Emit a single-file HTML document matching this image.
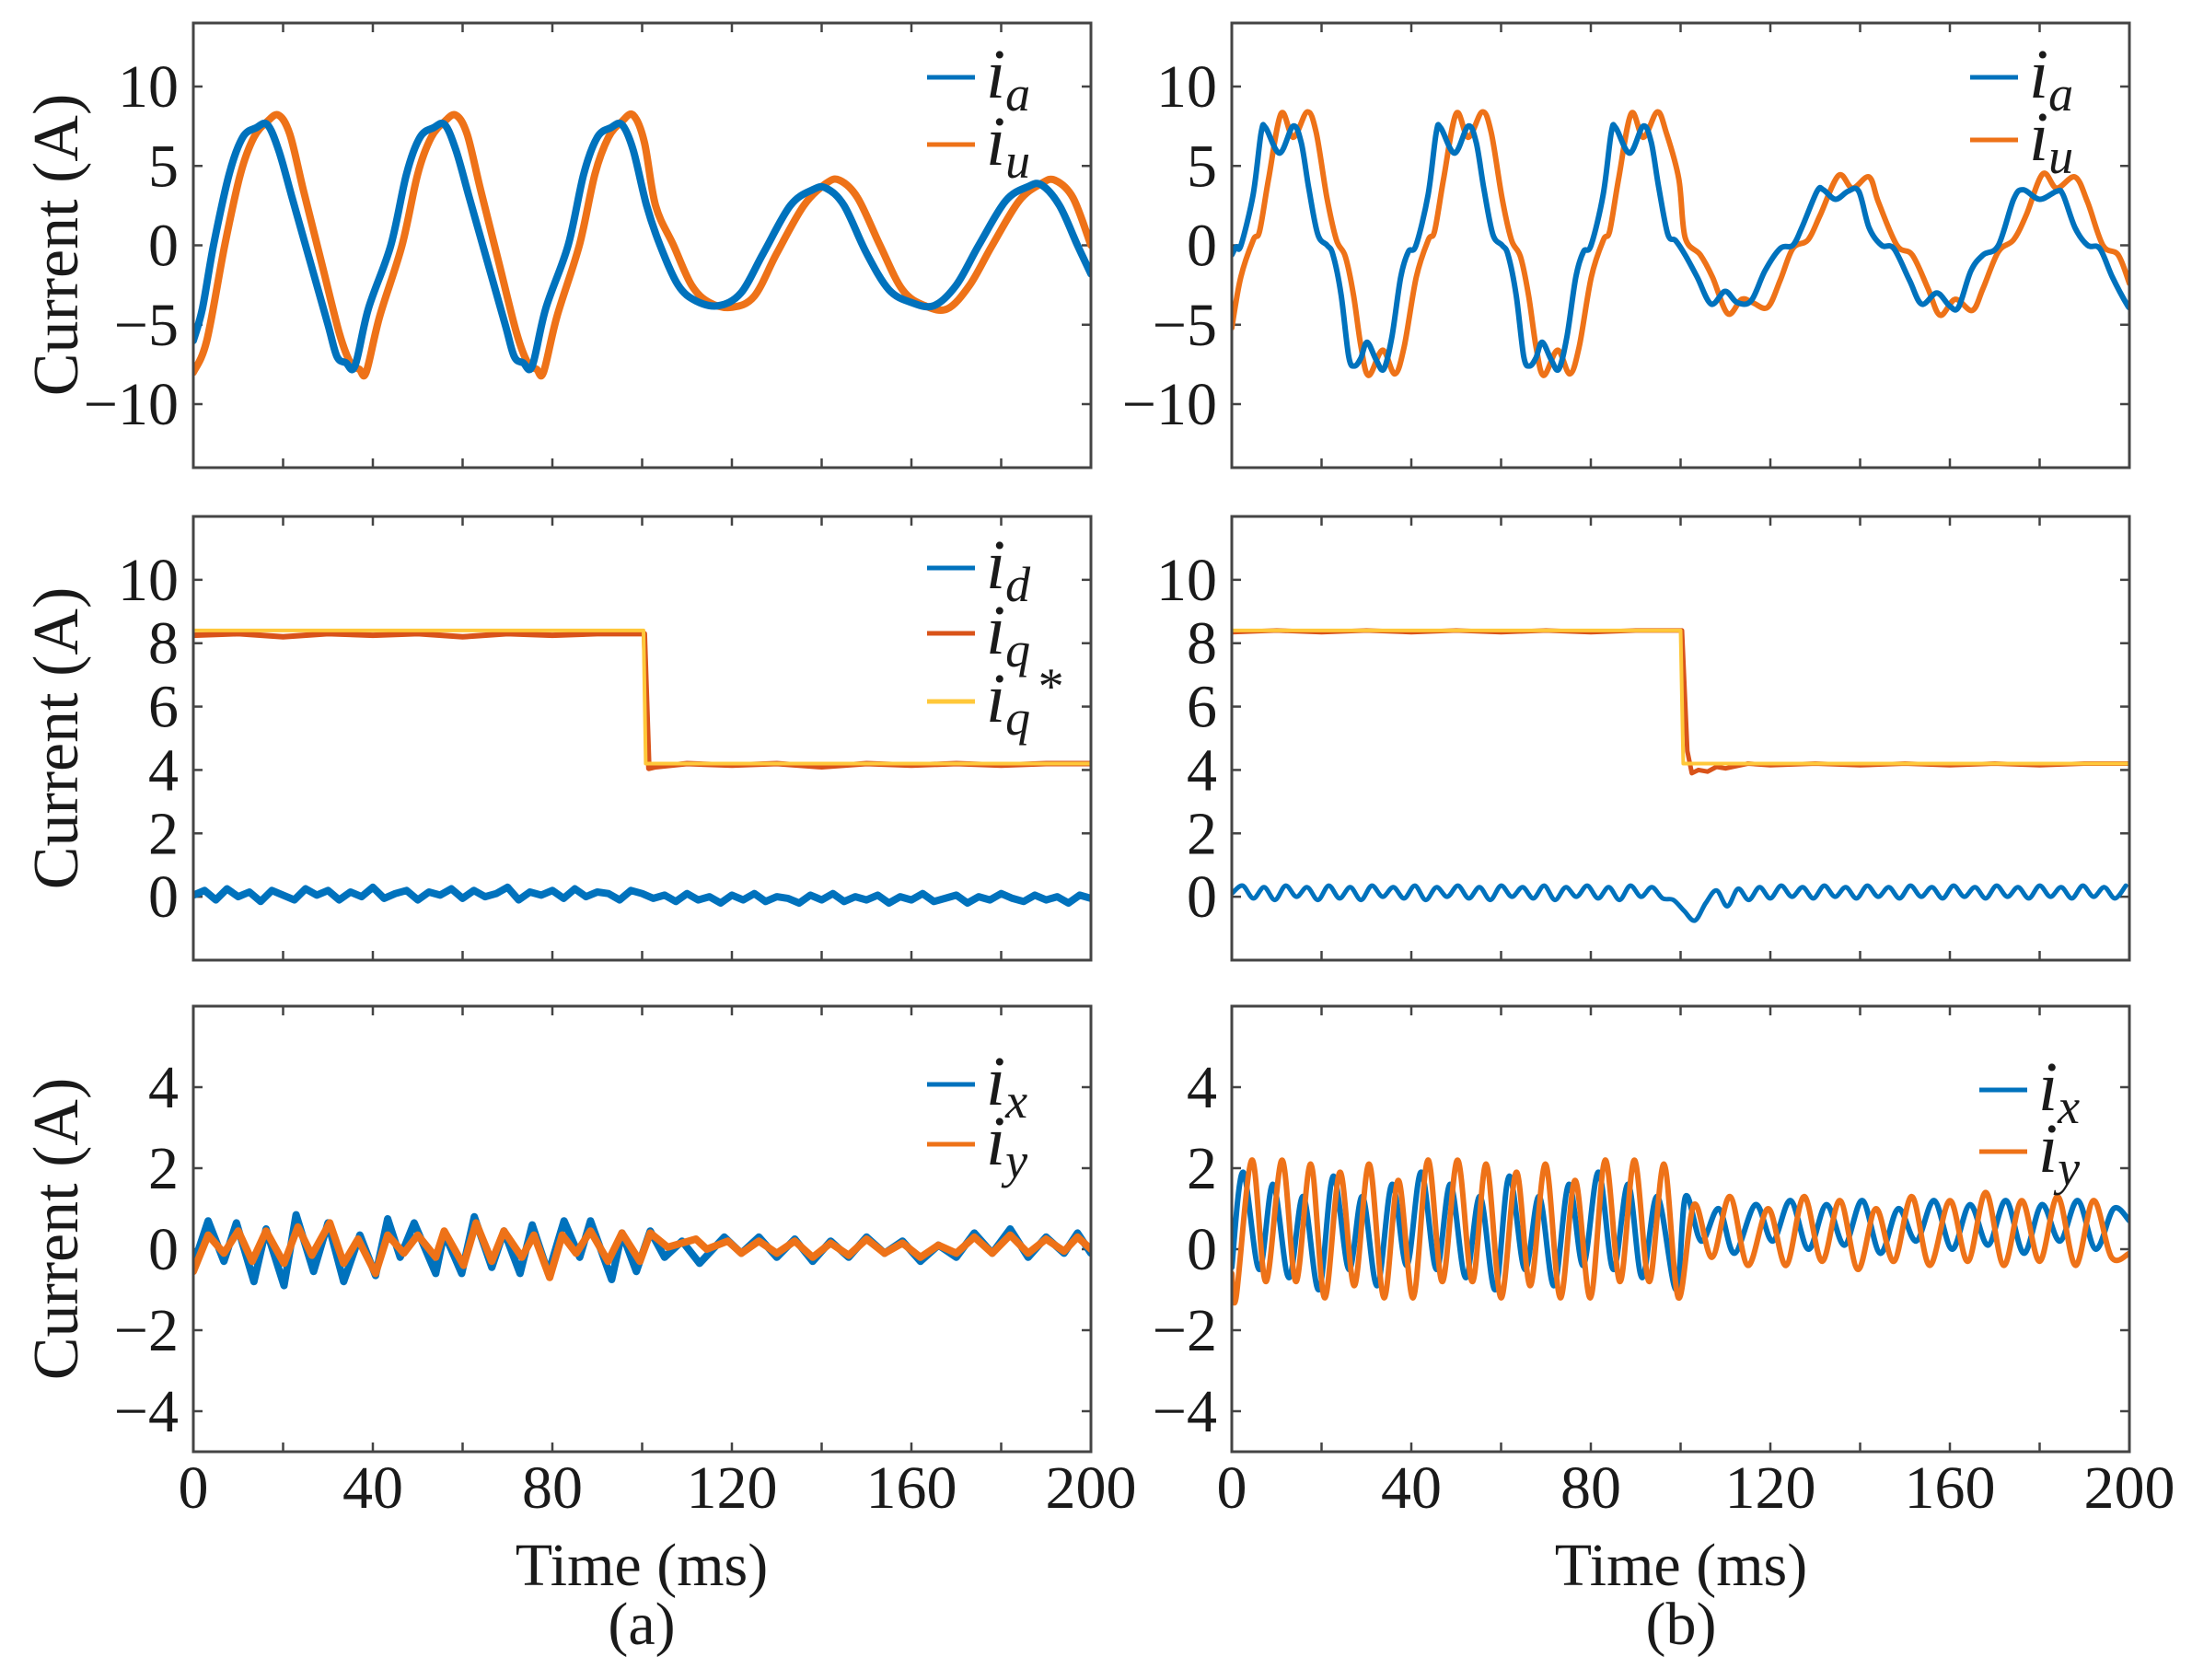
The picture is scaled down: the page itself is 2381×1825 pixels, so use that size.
<!DOCTYPE html>
<html>
<head>
<meta charset="utf-8">
<style>
html,body{margin:0;padding:0;background:#fff;}
svg{display:block;}
text{font-family:"Liberation Serif","DejaVu Serif",serif;fill:#1a1a1a;}
</style>
</head>
<body>
<svg id="fig" width="2381" height="1825" viewBox="0 0 2381 1825" xmlns="http://www.w3.org/2000/svg">
<rect x="0" y="0" width="2381" height="1825" fill="#fff"/>
<g id="layer"></g>
</svg>
<script>
// ---------- data ----------
const xTickLabels = ["0","40","80","120","160","200"];
const xTickValues = [0,40,80,120,160,200];
const topTicks = [-10,-5,0,5,10];
const midTicks = [0,2,4,6,8,10];
const botTicks = [-4,-2,0,2,4];

// (a) top: i_a, i_u
const iaA_t = [0,2,4.5,8,11,14,16.5,19,22,26,30,32,34,36,39,44,47.5,50.5,53.5,56,58.5,61.5,65.5,69.5,71.5,73.5,75.5,78.5,83.5,87,90,93,95.5,98,101,104,108,112,117,122,127,133,138,141,145,150,155,160,165,170,175,181,186,189,193,197,200];
const iaA_v = [-6,-4,0,4.5,6.8,7.4,7.6,6,3,-1,-5,-7,-7.4,-7.6,-4,0,4.5,6.8,7.4,7.6,6,3,-1,-5,-7,-7.4,-7.6,-4,0,4.5,6.8,7.4,7.6,6,2.5,0,-2.5,-3.5,-3.8,-3,-0.5,2.5,3.5,3.6,2.5,-0.5,-2.8,-3.6,-3.8,-2.5,0,2.8,3.7,3.8,2.5,0,-1.8];
const iuA_t = [0,3,7,10.5,13.5,16.5,19,21.5,24.5,28.5,32.5,35,37,38.5,41.5,46.5,50,53,56,58.5,61,64,68,72,74.5,76.5,78,81,86,89.5,92.5,95.5,98,100.5,103,107,111,115,120,125,130,136,141,144,148,153,158,163,168,173,178,184,189,192,196,200];
const iuA_v = [-8,-6,0,4.5,6.8,7.8,8.2,7,3.5,-1,-5.5,-7.4,-7.8,-8,-4.5,0,4.5,6.8,7.8,8.2,7,3.5,-1,-5.5,-7.4,-7.8,-8,-4.5,0,4.5,6.8,7.8,8.2,6.5,2.5,0,-2.5,-3.6,-3.9,-3.2,-0.5,2.5,3.9,4.1,3,0,-2.8,-3.8,-4,-2.5,0,2.8,3.9,4.1,3,0];

// (b) top
const iaB_t = [0,1,2.05,4.75,6.55,7.55,10.65,13.65,15.45,17.15,19.15,21.25,22.55,24.35,26.05,27.35,28.75,30.15,32.15,33.85,35.65,37.65,39.35,41.05,43.75,45.55,46.55,49.65,52.65,54.45,56.15,58.15,60.25,61.55,63.35,65.05,66.35,67.75,69.15,71.15,72.85,74.65,76.65,78.35,80.05,82.75,84.55,85.55,88.65,91.65,93.45,95.15,97.15,98.9,101,103.7,106.8,109.9,112.6,115.7,118.8,122.2,125,127,130.4,131.8,134.5,137.3,139.7,142,144.8,147.5,151,153.7,157.1,159.9,161.9,164.7,167.4,170.8,174.2,176.3,180,183.8,185.2,187.9,190.7,193.4,196.2,199.6,200];
const iaB_v = [-0.6,-0.1,0,3.2,7.1,7.4,5.8,7.5,6.5,3.6,0.7,0,-0.6,-3.1,-7,-7.6,-7.1,-6.1,-7.2,-7.8,-5.8,-2,-0.4,0,3.2,7.1,7.4,5.8,7.5,6.5,3.6,0.7,0,-0.6,-3.1,-7,-7.6,-7.1,-6.1,-7.2,-7.8,-5.8,-2,-0.4,0,3.2,7.1,7.4,5.8,7.5,6.5,3.6,0.7,0.3,-0.6,-2,-3.7,-2.9,-3.6,-3.5,-1.6,-0.2,0,1.1,3.4,3.5,2.9,3.4,3.4,1.1,0,-0.2,-2.2,-3.7,-3,-3.8,-3.9,-1.6,-0.6,0,2.9,3.5,2.9,3.4,3.2,1.1,0,-0.2,-2,-3.8,-3.8];
const iuB_t = [0,2,4.8,6.2,8.2,11,13.7,16.8,18.8,21.2,23.3,25.3,27.1,28.8,30.5,33.6,36.3,38.4,41.1,43.8,45.2,47.2,50,52.7,55.8,57.8,60.2,62.3,64.3,66.1,67.8,69.5,72.6,75.3,77.4,80.1,82.8,84.2,86.2,89,91.7,94.8,96.8,99.6,101,104.4,107.1,110.5,113.6,116,119.4,122.2,125,128.4,131.1,135.2,138.3,142,144.1,148.2,151.6,155.1,157.8,161.2,165,167.4,170.8,174.2,177,180.7,183.8,187.9,190.7,194.1,197.5,200];
const iuB_v = [-5.2,-2,0.35,0.9,4.2,8.3,6.8,8.4,7.1,3,0.35,-0.7,-3.1,-6.4,-8.2,-6.6,-8.1,-6.4,-2,0.35,0.9,4.2,8.3,6.8,8.4,7.1,3,0.35,-0.7,-3.1,-6.4,-8.2,-6.6,-8.1,-6.4,-2,0.35,0.9,4.2,8.3,6.8,8.4,7.1,4.2,0.5,-0.6,-2,-4.3,-3.4,-3.6,-3.9,-2.2,-0.2,0.35,1.9,4.4,3.6,4.3,2.7,0,-0.6,-2.7,-4.4,-3.4,-4.1,-2.7,-0.4,0.35,1.9,4.5,3.6,4.3,2.7,0,-0.6,-2.4];

// (a) middle: i_d, i_q, i_q*
const idA_dt = 2.5;
const idA_v = [0.05,0.2,-0.1,0.25,0,0.15,-0.15,0.2,0.05,-0.1,0.25,0.05,0.2,-0.1,0.15,0,0.3,-0.05,0.1,0.2,-0.1,0.15,0.05,0.25,-0.05,0.2,0,0.1,0.3,-0.1,0.15,0.05,0.2,-0.05,0.25,0,0.15,0.1,-0.1,0.2,0.1,-0.05,0.05,-0.15,0.1,-0.1,0,-0.2,0.05,-0.1,0.1,-0.15,0,-0.05,-0.2,0.05,-0.1,0.1,-0.15,0,-0.1,0.05,-0.2,0,-0.1,0.1,-0.15,-0.05,0.05,-0.2,0,-0.1,0.1,-0.05,-0.15,0.05,-0.1,0,-0.2,0.05,-0.05];
const iqA_t = [0,10,20,30,40,50,60,70,80,90,100.5,101.5,103,110,120,130,140,150,160,170,180,190,200];
const iqA_v = [8.25,8.3,8.2,8.3,8.25,8.3,8.2,8.3,8.25,8.3,8.3,4.05,4.1,4.2,4.15,4.2,4.1,4.2,4.15,4.2,4.15,4.2,4.2];
const iqRefA_t = [0,100.3,100.8,200];
const iqRefA_v = [8.4,8.4,4.2,4.2];

// (b) middle
const idB_dt = 2.4;
const idB_v = [0.1,0.35,-0.05,0.3,-0.1,0.35,0,0.3,-0.1,0.35,-0.05,0.3,-0.1,0.35,0,0.3,-0.05,0.35,-0.1,0.3,0,0.35,-0.05,0.3,-0.1,0.35,0,0.3,-0.05,0.35,-0.1,0.3,0,0.35,-0.05,0.3,-0.1,0.35,0,0.3,-0.05,-0.1,-0.45,-0.75,-0.2,0.2,-0.3,0.25,-0.1,0.3,-0.05,0.35,0,0.3,-0.05,0.35,0,0.3,-0.05,0.35,0,0.3,-0.05,0.35,0,0.3,-0.05,0.35,0,0.3,-0.05,0.35,0,0.3,-0.05,0.35,0,0.3,-0.05,0.35,0,0.3,-0.05,0.35];
const iqB_t = [0,10,20,30,40,50,60,70,80,90,100.3,101.5,102.5,104,106,108,110,115,120,130,140,150,160,170,180,190,200];
const iqB_v = [8.35,8.4,8.35,8.4,8.35,8.4,8.35,8.4,8.35,8.4,8.4,4.6,3.9,4.0,3.95,4.1,4.05,4.2,4.15,4.2,4.15,4.2,4.15,4.2,4.15,4.2,4.2];
const iqRefB_t = [0,100,100.6,200];
const iqRefB_v = [8.4,8.4,4.2,4.2];

// (a) bottom: i_x, i_y
const ixA_t = [0,3.3,6.8,9.6,13.5,16.2,20.2,22.9,26.8,30,33.5,37.1,40.6,43.3,46.1,49.2,54,55.9,59.8,62.6,66.5,69.2,72.8,75.5,79.1,82.6,86.1,88.5,93.2,95.5,98.7,101.8,105,108.9,112.8,118.3,122.1,126,130,134,138,142,146,150,154,158,162,166,170,174,178,182,186,190,194,197,200];
const ixA_v = [-0.4,0.7,-0.3,0.65,-0.8,0.5,-0.9,0.85,-0.55,0.65,-0.8,0.35,-0.65,0.75,-0.2,0.65,-0.6,0.4,-0.6,0.8,-0.45,0.45,-0.6,0.6,-0.6,0.7,-0.2,0.7,-0.75,0.4,-0.55,0.45,-0.2,0.2,-0.35,0.3,-0.1,0.3,-0.2,0.25,-0.3,0.2,-0.2,0.3,-0.1,0.2,-0.3,0.1,-0.2,0.4,-0.1,0.5,-0.2,0.3,-0.1,0.4,-0.1];
const iyA_t = [0,3.3,6.8,10,13.1,16.2,20.2,23.3,26.4,30.4,33.5,36.7,40.6,43.3,46.9,50,54,55.9,60.2,63,66.5,69.2,73.2,75.9,79.4,82.2,85.3,88.5,92.4,95.5,99.5,101.8,105.7,112,114.4,119.1,122.1,126,130,134,138,142,146,150,154,158,162,166,170,174,178,182,186,190,194,197,200];
const iyA_v = [-0.55,0.35,-0.1,0.45,-0.3,0.45,-0.35,0.55,-0.15,0.65,-0.35,0.25,-0.6,0.35,-0.1,0.35,-0.2,0.45,-0.4,0.65,-0.3,0.45,-0.2,0.35,-0.7,0.35,-0.1,0.45,-0.3,0.4,-0.3,0.4,0.05,0.25,0,0.2,-0.1,0.2,-0.1,0.2,-0.2,0.15,-0.15,0.25,-0.1,0.15,-0.2,0.1,-0.1,0.3,-0.1,0.35,-0.1,0.25,-0.05,0.3,0];

// (b) bottom
const ixB_t = [0,2.5,6.1,9.2,12.7,15.9,19.4,22.6,26.1,29.1,32.4,35.7,39,42.2,45.6,48.7,52.1,55.3,58.7,61.8,65.3,68.5,71.8,75.1,78.3,81.7,85,88.3,91.4,94.8,99,101.1,104.6,108.5,112,116.7,120.5,124.5,128.5,132.5,136.5,140.5,144.5,148.5,152.5,156.5,160.5,164.5,168.5,172.5,176.5,180.5,184.5,188.5,192.5,196.5,200];
const ixB_v = [-0.45,1.9,-0.5,1.6,-0.7,1.3,-1.0,1.8,-0.5,1.3,-0.9,1.6,-0.4,1.9,-0.5,1.6,-0.7,1.3,-1.0,1.8,-0.5,1.3,-0.9,1.6,-0.4,1.9,-0.5,1.6,-0.7,1.3,-1.0,1.3,0.2,1.0,-0.1,1.1,0.2,1.2,0,1.1,0.1,1.2,-0.1,1.0,0.2,1.2,0,1.1,0.1,1.2,-0.1,1.1,0.2,1.2,0,1.0,0.7];
const iyB_t = [0,0.95,4.5,7.6,11.2,14.3,17.6,20.7,24.1,27.3,30.6,33.9,37.1,40.4,43.7,46.9,50.3,53.6,56.7,60,63.4,66.5,69.9,73.2,76.5,79.9,83.2,86.5,89.7,93,96.3,99.5,103,107,111,115,119.5,123.5,127.5,131.5,135.5,139.5,143.5,147.5,151.5,155.5,160,164,168,172,176,180,184,188,192,196,200];
const iyB_v = [-0.6,-1.2,2.2,-0.8,2.2,-0.8,2.1,-1.2,1.9,-0.9,2.1,-1.2,1.7,-1.2,2.2,-0.8,2.2,-0.8,2.1,-1.2,1.9,-0.9,2.1,-1.2,1.7,-1.2,2.2,-0.8,2.2,-0.8,2.1,-1.2,1.1,-0.2,1.3,-0.4,1.0,-0.4,1.3,-0.3,1.2,-0.5,1.0,-0.3,1.3,-0.4,1.2,-0.3,1.4,-0.4,1.2,-0.3,1.3,-0.4,1.2,-0.2,-0.1];

// ---------- drawing ----------
const NS = "http://www.w3.org/2000/svg";
const layer = document.getElementById('layer');
const BLUE = "#0072BD", ORANGE = "#EE7218", YELLOW = "#FFC83A";
const colX = [210, 1338], W = 975;
const rows = [{y:25,h:483,min:-14,max:14,ticks:topTicks},{y:561,h:482,min:-2,max:12,ticks:midTicks},{y:1093,h:484,min:-5,max:6,ticks:botTicks}];

function mk(tag, attrs, parent){
  const e = document.createElementNS(NS, tag);
  for (const k in attrs) e.setAttribute(k, attrs[k]);
  (parent||layer).appendChild(e);
  return e;
}
function axes(ci, ri){
  const x0 = colX[ci], r = rows[ri];
  const xs = t => x0 + t/200*W;
  const ys = v => r.y + (r.max - v)/(r.max - r.min)*r.h;
  return {xs, ys, x0, r};
}
function linPath(ax, T, V){
  let d = "";
  for (let i=0;i<T.length;i++) d += (i?"L":"M") + ax.xs(T[i]).toFixed(1) + "," + ax.ys(V[i]).toFixed(1);
  return d;
}
function smoothPath(ax, T, V){
  const P = T.map((t,i)=>[ax.xs(t), ax.ys(V[i])]);
  let d = "M"+P[0][0].toFixed(1)+","+P[0][1].toFixed(1);
  for (let i=0;i<P.length-1;i++){
    const p0=P[Math.max(0,i-1)], p1=P[i], p2=P[i+1], p3=P[Math.min(P.length-1,i+2)];
    const c1=[p1[0]+(p2[0]-p0[0])/6, p1[1]+(p2[1]-p0[1])/6];
    const c2=[p2[0]-(p3[0]-p1[0])/6, p2[1]-(p3[1]-p1[1])/6];
    d += "C"+c1[0].toFixed(1)+","+c1[1].toFixed(1)+" "+c2[0].toFixed(1)+","+c2[1].toFixed(1)+" "+p2[0].toFixed(1)+","+p2[1].toFixed(1);
  }
  return d;
}
function uniformT(n, dt){ const a=[]; for(let i=0;i<n;i++) a.push(Math.min(200,i*dt)); return a; }

function drawPanel(ci, ri, name){
  const ax = axes(ci, ri), r = ax.r, x0 = ax.x0;
  const g = mk('g', {});
  
  
  const clip = mk('clipPath', {id:'clip'+ci+ri}, g);
  mk('rect', {x:x0, y:r.y, width:W, height:r.h}, clip);
  const tk = mk('g', {stroke:"#444","stroke-width":2.5}, g);
  
  
  for (let t=20;t<200;t+=20){
    const x = ax.xs(t);
    mk('line',{x1:x,y1:r.y,x2:x,y2:r.y+10},tk);
    mk('line',{x1:x,y1:r.y+r.h,x2:x,y2:r.y+r.h-10},tk);
  }
  r.ticks.forEach(v=>{
    const y = ax.ys(v);
    mk('line',{x1:x0,y1:y,x2:x0+10,y2:y},tk);
    mk('line',{x1:x0+W,y1:y,x2:x0+W-10,y2:y},tk);
    const lab = mk('text',{x:x0-16,y:y+22,"text-anchor":"end","font-size":66},g);
    
    
    lab.textContent = v<0 ? "\u2212"+Math.abs(v) : String(v);
  });
  const plot = mk('g', {"clip-path":"url(#clip"+ci+ri+")", fill:"none", "stroke-linejoin":"round","stroke-linecap":"round"}, g);
  
  
  const frame = mk('rect',{x:x0,y:r.y,width:W,height:r.h,fill:"none",stroke:"#444","stroke-width":3},g);
  
  
  if (ri===2){
    xTickValues.forEach((v,i)=>{
      const lab = mk('text',{x:ax.xs(v),y:1638,"text-anchor":"middle","font-size":66},g);
      
      
      lab.textContent = xTickLabels[i];
    });
  }
  return {ax, plot};
}
function series(p, d, color, w, name){
  const e = mk('path', {d:d, stroke:color, "stroke-width":w}, p.plot);
  
  
}

let p;
p = drawPanel(0,0,'panel-a-phase-currents');
series(p, smoothPath(p.ax, iuA_t, iuA_v), ORANGE, 8, 'series-iu');
series(p, smoothPath(p.ax, iaA_t, iaA_v), BLUE, 8, 'series-ia');
p = drawPanel(1,0,'panel-b-phase-currents');
series(p, smoothPath(p.ax, iuB_t, iuB_v), ORANGE, 6, 'series-iu');
series(p, smoothPath(p.ax, iaB_t, iaB_v), BLUE, 6, 'series-ia');
p = drawPanel(0,1,'panel-a-dq-currents');
series(p, linPath(p.ax, uniformT(idA_v.length, idA_dt), idA_v), BLUE, 8, 'series-id');
series(p, linPath(p.ax, iqA_t, iqA_v), "#D95319", 6, 'series-iq');
series(p, linPath(p.ax, iqRefA_t, iqRefA_v), YELLOW, 4, 'series-iq-ref');
p = drawPanel(1,1,'panel-b-dq-currents');
series(p, smoothPath(p.ax, uniformT(idB_v.length, idB_dt), idB_v), BLUE, 5, 'series-id');
series(p, linPath(p.ax, iqB_t, iqB_v), "#D95319", 5, 'series-iq');
series(p, linPath(p.ax, iqRefB_t, iqRefB_v), YELLOW, 4, 'series-iq-ref');
p = drawPanel(0,2,'panel-a-xy-currents');
series(p, linPath(p.ax, ixA_t, ixA_v), BLUE, 8, 'series-ix');
series(p, linPath(p.ax, iyA_t, iyA_v), ORANGE, 8, 'series-iy');
p = drawPanel(1,2,'panel-b-xy-currents');
series(p, smoothPath(p.ax, ixB_t, ixB_v), BLUE, 6, 'series-ix');
series(p, smoothPath(p.ax, iyB_t, iyB_v), ORANGE, 6, 'series-iy');

function legendEntry(x, y, color, sub, sup, name){
  const g = mk('g', {});
  
  
  mk('line',{x1:x,y1:y,x2:x+52,y2:y,stroke:color,"stroke-width":5},g);
  const t = mk('text',{x:x+64,y:y+22,"font-size":76,"font-style":"italic"},g);
  t.appendChild(document.createTextNode("i"));
  const s = mk('tspan',{"font-size":54,dy:14},t);
  s.textContent = sub;
  if (sup){
    const u = mk('text',{x:x+118,y:y+2,"font-size":56,"font-style":"italic"},g);
    u.textContent = sup;
  }
}
legendEntry(1007, 84, BLUE, "a", null, 'legend-ia');
legendEntry(1007, 157, ORANGE, "u", null, 'legend-iu');
legendEntry(2140, 84, BLUE, "a", null, 'legend-ia');
legendEntry(2140, 152, ORANGE, "u", null, 'legend-iu');
legendEntry(1007, 617, BLUE, "d", null, 'legend-id');
legendEntry(1007, 688, "#D95319", "q", null, 'legend-iq');
legendEntry(1007, 762, YELLOW, "q", "*", 'legend-iq-ref');
legendEntry(1007, 1178, BLUE, "x", null, 'legend-ix');
legendEntry(1007, 1243, ORANGE, "y", null, 'legend-iy');
legendEntry(2150, 1184, BLUE, "x", null, 'legend-ix');
legendEntry(2150, 1251, ORANGE, "y", null, 'legend-iy');

[266, 802, 1335].forEach(cy=>{
  const t = mk('text',{x:0,y:0,"text-anchor":"middle","font-size":70,transform:"translate(84,"+cy+") rotate(-90)"});
  
  
  t.textContent = "Current (A)";
});
[[697,"(a)"],[1826,"(b)"]].forEach(([cx,lab])=>{
  const t = mk('text',{x:cx,y:1722,"text-anchor":"middle","font-size":66});
  
  
  t.textContent = "Time (ms)";
  const c = mk('text',{x:cx,y:1786,"text-anchor":"middle","font-size":66});
  
  
  c.textContent = lab;
});
</script>
</body>
</html>
